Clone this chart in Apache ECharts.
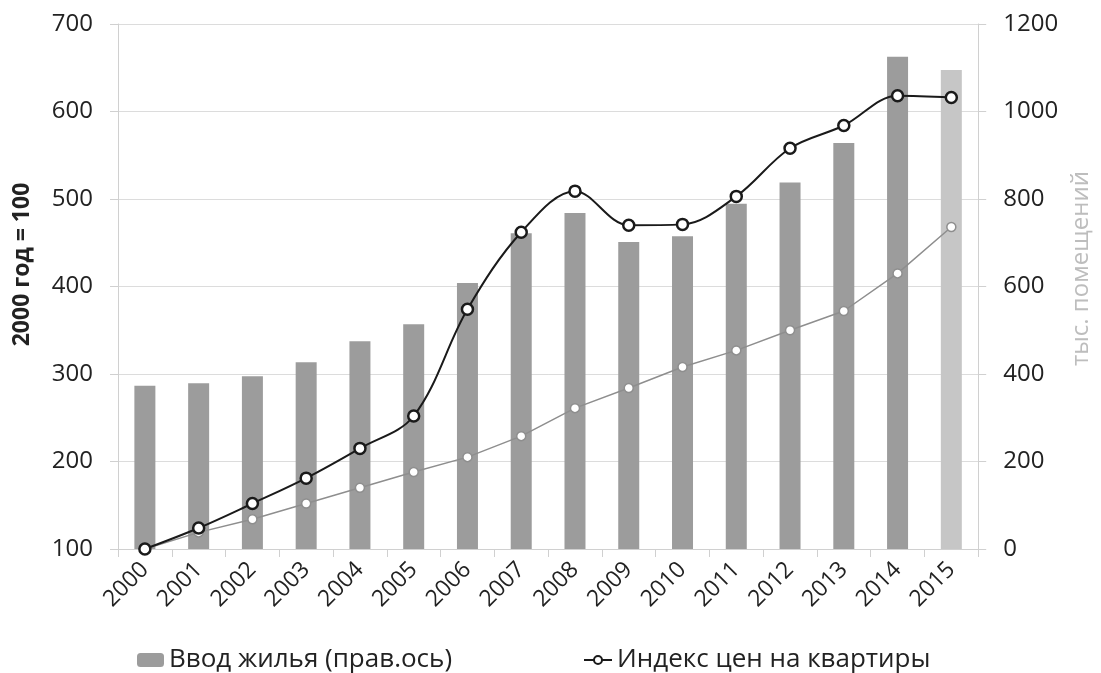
<!DOCTYPE html>
<html><head><meta charset="utf-8">
<script src="https://cdn.jsdelivr.net/npm/echarts@6/dist/echarts.min.js"></script>
<style>html,body{margin:0;padding:0;background:#fff}#c{width:1101px;height:673px}</style>
</head><body><div id="c"></div>
<script>
const years = ['2000','2001','2002','2003','2004','2005','2006','2007','2008','2009','2010','2011','2012','2013','2014','2015'];
const housing = [373, 379, 395, 427, 475, 514, 608, 722, 768, 702, 715, 789, 838, 928, 1125, 1095];
const priceIndex = [100, 124, 152, 181, 215, 252, 374, 462, 509, 470, 471, 503, 558, 584, 618, 616];
const otherIndex = [100, 119, 134, 152, 170, 188, 205, 229, 261, 284, 308, 327, 350, 372, 415, 468];
const leftTicks = [100, 700, 100];
const rightTicks = [0, 1200, 200];

const font = '"Open Sans", "DejaVu Sans", sans-serif';
const chart = echarts.init(document.getElementById('c'));
chart.setOption({
  animation: false,
  grid: {left: 118, right: 121, top: 24, bottom: 124},
  legend: [
    {data: ['Ввод жилья (прав.ось)'], left: 132, top: 642, itemWidth: 27, itemHeight: 14, itemGap: 4,
     textStyle: {fontSize: 26, color: '#222', fontFamily: font}},
    {data: ['Индекс цен на квартиры'], left: 578, top: 642, itemWidth: 28, itemHeight: 10,
     textStyle: {fontSize: 26, color: '#222', fontFamily: font}}
  ],
  xAxis: {
    type: 'category', data: years, boundaryGap: true,
    axisLine: {lineStyle: {color: '#d0d0d0'}},
    axisTick: {show: true, length: 8, lineStyle: {color: '#d0d0d0'}},
    axisLabel: {rotate: 45, fontSize: 23, color: '#222', fontFamily: font, margin: 17}
  },
  yAxis: [
    {type: 'value', min: leftTicks[0], max: leftTicks[1], interval: leftTicks[2],
     name: '2000 год = 100', nameLocation: 'middle', nameGap: 84, nameRotate: 90,
     nameTextStyle: {fontSize: 23, color: '#222', fontFamily: font, fontWeight: 'bold', padding: [0, 0, 0, 44]},
     axisLine: {show: true, lineStyle: {color: '#d0d0d0'}},
     axisTick: {show: true, length: 8, lineStyle: {color: '#d0d0d0'}},
     splitLine: {lineStyle: {color: '#dcdcdc'}},
     axisLabel: {fontSize: 24, color: '#222', fontFamily: font, margin: 25}},
    {type: 'value', min: rightTicks[0], max: rightTicks[1], interval: rightTicks[2],
     name: 'тыс. помещений', nameLocation: 'middle', nameGap: 89, nameRotate: 90,
     nameTextStyle: {fontSize: 24, color: '#bdbdbd', fontFamily: font, padding: [0, 0, 0, 36]},
     axisLine: {show: true, lineStyle: {color: '#d0d0d0'}},
     axisTick: {show: true, length: 8, lineStyle: {color: '#d0d0d0'}},
     splitLine: {show: false},
     axisLabel: {fontSize: 24, color: '#222', fontFamily: font, margin: 25, formatter: v => String(v)}}
  ],
  series: [
    {name: 'Ввод жилья (прав.ось)', type: 'bar', yAxisIndex: 1, barWidth: 21,
     itemStyle: {color: '#9c9c9c'},
     data: housing.map((v, i) => i === housing.length - 1 ? {value: v, itemStyle: {color: '#c6c6c6'}} : v)},
    {name: 'Прочий индекс', type: 'line', yAxisIndex: 0, data: otherIndex,
     symbol: 'circle', symbolSize: 9, lineStyle: {color: '#8e8e8e', width: 1.5},
     itemStyle: {color: '#fff', borderColor: '#8e8e8e', borderWidth: 1.5}},
    {name: 'Индекс цен на квартиры', type: 'line', yAxisIndex: 0, data: priceIndex, smooth: 0.35,
     symbol: 'circle', symbolSize: 11, lineStyle: {color: '#1a1a1a', width: 2},
     itemStyle: {color: '#fff', borderColor: '#1a1a1a', borderWidth: 2.5}, z: 5}
  ]
});
</script></body></html>
